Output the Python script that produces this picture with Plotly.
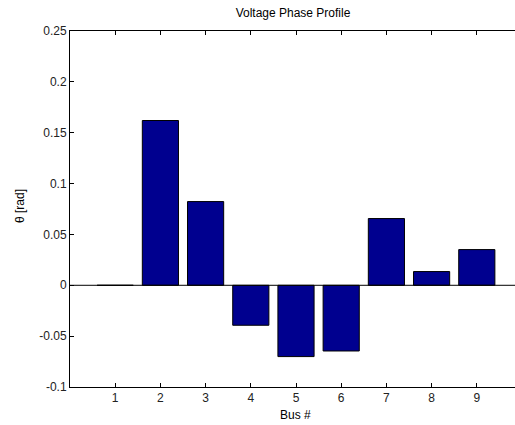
import plotly.graph_objects as go

buses = [1, 2, 3, 4, 5, 6, 7, 8, 9]
theta = [0.0, 0.162, 0.0823, -0.0393, -0.0701, -0.0646, 0.0656, 0.0135, 0.0351]
x_ticks = [1, 2, 3, 4, 5, 6, 7, 8, 9]
y_ticks = [-0.1, -0.05, 0, 0.05, 0.1, 0.15, 0.2, 0.25]
y_tick_text = ["-0.1", "-0.05", "0", "0.05", "0.1", "0.15", "0.2", "0.25"]

W, H = 515, 425
L, T, R = 70, 31, 0
B = H - 387
PW, PH = W - L - R, H - T - B
XMAX = PW / 45.2

FS = 12
font = dict(family="Liberation Sans, Arial, sans-serif", size=FS, color="#000000")

fig = go.Figure()
fig.add_trace(go.Bar(
    x=buses, y=theta, width=0.8,
    marker=dict(color="rgb(0,0,143)", line=dict(color="#000000", width=1)),
))

fig.add_shape(type="line", xref="x", yref="y", x0=0, x1=XMAX, y0=0, y1=0,
              line=dict(color="#000000", width=1), layer="above")

fig.update_layout(
    width=W, height=H,
    margin=dict(l=L, r=R, t=T, b=B, pad=0, autoexpand=False),
    paper_bgcolor="white", plot_bgcolor="white",
    showlegend=False,
    font=font,
    title=dict(text="Voltage Phase Profile", x=293 / W, xanchor="center",
               y=1 - 13 / H, yanchor="middle", yref="container", xref="container",
               font=dict(size=FS)),
    xaxis=dict(range=[0, XMAX], tickvals=x_ticks, ticks="inside", ticklen=4,
               tickcolor="#000000", showline=True, linecolor="#000000", linewidth=1,
               mirror="ticks", showgrid=False, zeroline=False, fixedrange=True,
               tickfont=dict(size=FS, color="#222222")),
    yaxis=dict(range=[-0.1, 0.25], tickvals=y_ticks, ticktext=y_tick_text, ticks="inside",
               ticklen=4, tickcolor="#000000", showline=True, linecolor="#000000",
               linewidth=1, mirror=False, showgrid=False, zeroline=False,
               fixedrange=True, tickfont=dict(size=FS, color="#222222")),
    annotations=[
        dict(text="Bus #", x=(295 - 70) / PW, y=(387 - 415) / PH, xref="paper", yref="paper",
             xanchor="center", yanchor="middle", showarrow=False, font=dict(size=FS)),
        dict(text="θ [rad]", x=(20 - 70) / PW, y=(387 - 206) / PH, xref="paper", yref="paper",
             textangle=-90, xanchor="center", yanchor="middle", showarrow=False,
             font=dict(size=FS)),
    ],
)

fig.write_html(
    "out.html",
    config={"displayModeBar": False},
    post_script="document.body.style.margin='0';document.body.style.overflow='hidden';",
)
